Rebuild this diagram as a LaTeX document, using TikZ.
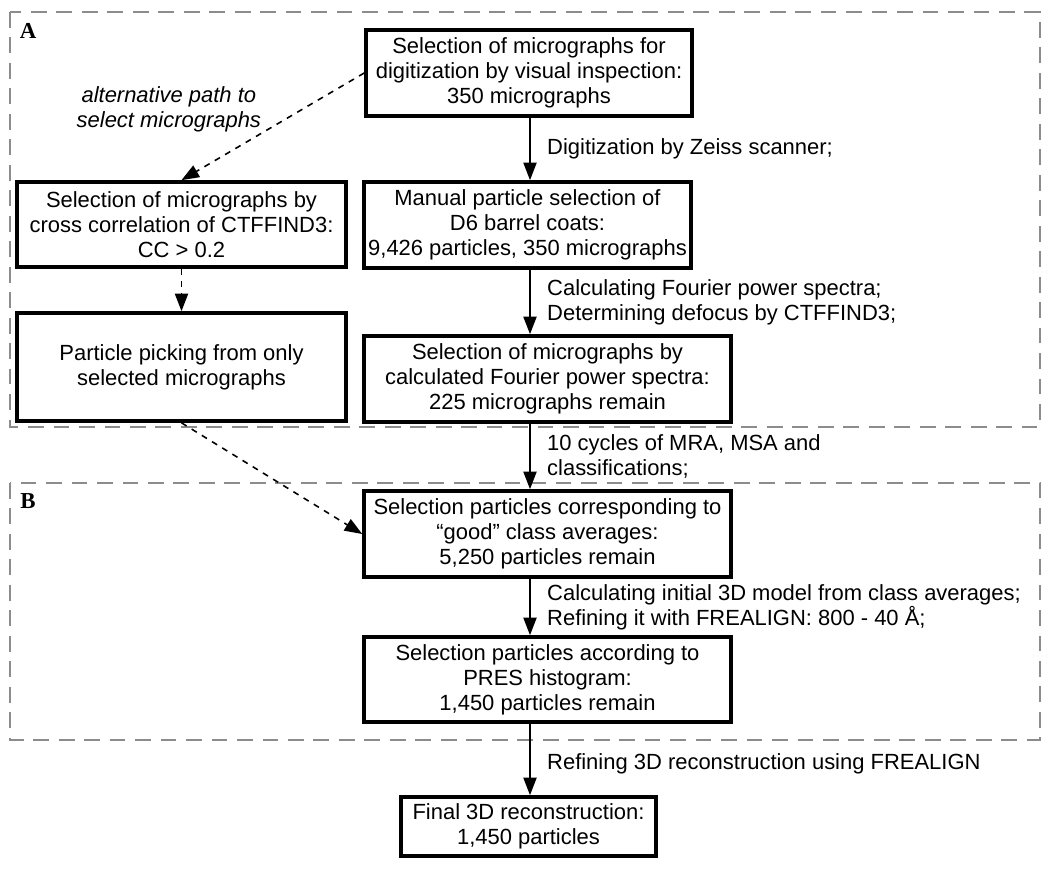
\documentclass[tikz,border=0pt]{standalone}
\usepackage{fontspec}
\setmainfont{Liberation Sans}
\newfontfamily\labelfont{Liberation Serif}
\usetikzlibrary{arrows.meta}

\tikzset{
  stagebox/.style={draw, line width=2.1pt, align=center, inner sep=0pt,
    font=\fontsize{12.5}{14.2}\selectfont},
  flow/.style={-{Triangle[length=10pt,width=7.5pt]}, line width=0.9pt},
  altflow/.style={flow, dash pattern=on 3.4pt off 3.4pt},
  steplabel/.style={right, xshift=6pt, align=left,
    font=\fontsize{12.5}{14.2}\selectfont},
  panel/.style={draw=black!45, line width=0.6pt, dash pattern=on 9pt off 5.5pt},
  panelname/.style={font=\labelfont\bfseries\fontsize{13}{14}\selectfont}
}

\begin{document}
\begin{tikzpicture}[x=0.02cm, y=-0.02cm]
			\useasboundingbox (0,0) rectangle (1050,876);
			
			% Draw the two dashed panels
			\draw[panel] (10,12) rectangle (1040,427);
			\draw[panel] (10,483) rectangle (1040,740);
			\node[panelname] (panelA) at (28,31) {A};
			\node[panelname] (panelB) at (28,501) {B};
			
			% Main path of selection steps
			\node[stagebox, minimum width=6.52cm, minimum height=1.72cm] (visual) at (529,73)
			{Selection of micrographs for\\digitization by visual inspection:\\350 micrographs};
			\node[stagebox, minimum width=6.54cm, minimum height=1.72cm] (manual) at (527.5,225)
			{Manual particle selection of\\D6 barrel coats:\\9,426 particles, 350 micrographs};
			\node[stagebox, minimum width=7.34cm, minimum height=1.72cm] (spectra) at (547.5,379)
			{Selection of micrographs by\\calculated Fourier power spectra:\\225 micrographs remain};
			\node[stagebox, minimum width=7.34cm, minimum height=1.72cm] (good) at (547.5,534)
			{Selection particles corresponding to\\\textquotedblleft good\textquotedblright{} class averages:\\5,250 particles remain};
			\node[stagebox, minimum width=7.34cm, minimum height=1.70cm] (pres) at (547.5,679.5)
			{Selection particles according to\\PRES histogram:\\1,450 particles remain};
			\node[stagebox, minimum width=5.1cm, minimum height=1.18cm] (final) at (528.5,826.5)
			{Final 3D reconstruction:\\1,450 particles};
			
			% Alternative path on the left
			\node[stagebox, minimum width=6.58cm, minimum height=1.70cm] (crosscorr) at (181.5,224.5)
			{Selection of micrographs by\\cross correlation of CTFFIND3:\\CC > 0.2};
			\node[stagebox, minimum width=6.58cm, minimum height=2.16cm] (picking) at (181.5,367)
			{Particle picking from only\\selected micrographs};
			
			% Spine of the vertical arrows
			\coordinate (spine) at (530,0);
			
			% Draw the arrows of the main path with their labels
			\draw[flow] (visual.south -| spine) -- (manual.north -| spine)
			node[midway, steplabel] {Digitization by Zeiss scanner;};
			\draw[flow] (manual.south -| spine) -- (spectra.north -| spine)
			node[midway, steplabel] {Calculating Fourier power spectra;\\Determining defocus by CTFFIND3;};
			\draw[flow] (spectra.south -| spine) -- (good.north -| spine)
			node[midway, steplabel] {10 cycles of MRA, MSA and\\classifications;};
			\draw[flow] (good.south -| spine) -- (pres.north -| spine)
			node[midway, steplabel] {Calculating initial 3D model from class averages;\\Refining it with FREALIGN: 800 - 40 Å;};
			\draw[flow] (pres.south -| spine) -- (final.north -| spine)
			node[midway, steplabel, yshift=-2.5pt] {Refining 3D reconstruction using FREALIGN};
			
			% Dashed arrows of the alternative path
			\draw[altflow] (visual.west) -- (crosscorr.north)
			node[pos=0.5, xshift=-2.08cm, yshift=0.34cm, align=center,
			font=\itshape\fontsize{12.5}{14.2}\selectfont] {alternative path to\\select micrographs};
			\draw[altflow] (crosscorr.south) -- (picking.north);
			\draw[altflow] (picking.south) -- (good.west);
			
		\end{tikzpicture}
\end{document}
